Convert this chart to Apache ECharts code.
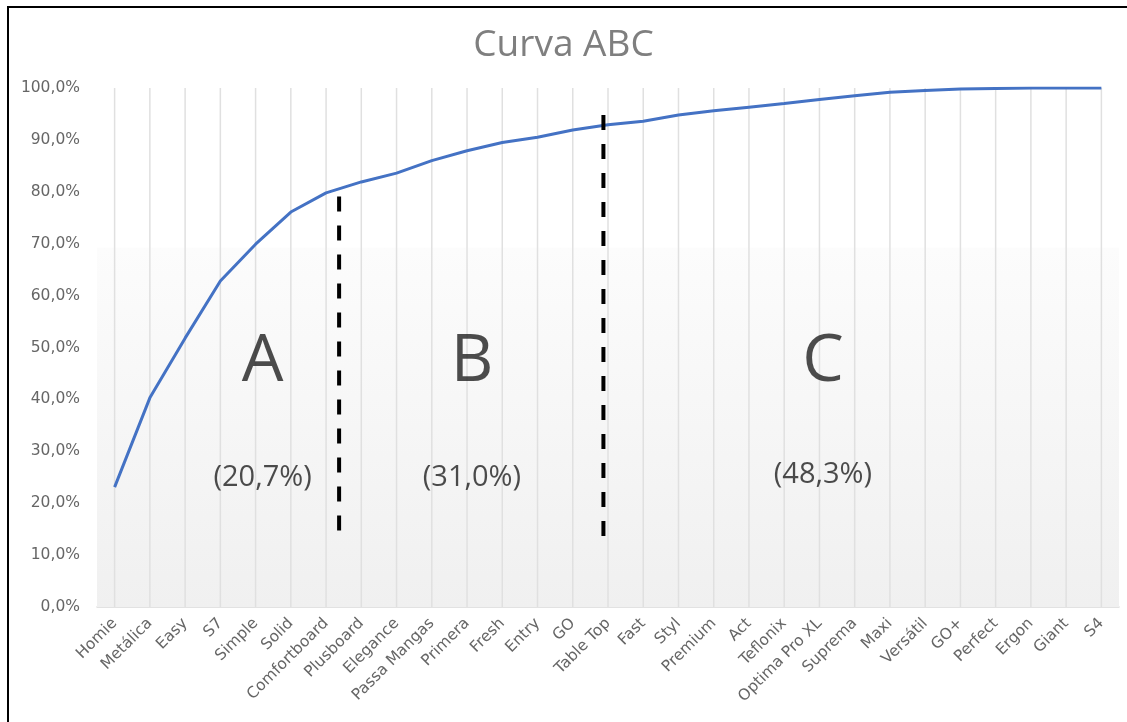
<!DOCTYPE html>
<html>
<head>
<meta charset="utf-8">
<script src="https://cdn.jsdelivr.net/npm/echarts@6/dist/echarts.min.js"></script>
<style>
  html, body { margin: 0; padding: 0; background: #fff; }
  #frame { position: absolute; left: 7px; top: 6px; width: 1130px; height: 730px;
           border-left: 2px solid #000; border-top: 2px solid #000; }
  #chart { position: absolute; left: 0; top: 0; width: 1127px; height: 722px; }
</style>
</head>
<body>
<div id="chart"></div>
<div id="frame"></div>
<script>
const categories = ['Homie','Metálica','Easy','S7','Simple','Solid','Comfortboard','Plusboard','Elegance','Passa Mangas','Primera','Fresh','Entry','GO','Table Top','Fast','Styl','Premium','Act','Teflonix','Optima Pro XL','Suprema','Maxi','Versátil','GO+','Perfect','Ergon','Giant','S4'];
const cumulative = [23.1, 40.3, 51.8, 62.8, 69.9, 76.1, 79.8, 81.9, 83.6, 86.0, 87.9, 89.5, 90.5, 91.9, 92.9, 93.6, 94.8, 95.6, 96.3, 97.0, 97.8, 98.5, 99.2, 99.5, 99.8, 99.9, 100.0, 100.0, 100.0];
const yTicks = [0, 10, 20, 30, 40, 50, 60, 70, 80, 90, 100];
const gridHeight = categories.map(() => 100);

// class separators (position in category units, from/to in %)
const sepAB = [[6.37, 79.1], [6.37, 14.3]];
const sepBC = [[13.87, 94.8], [13.87, 13.3]];

// class labels
const letterNames = ['A', 'B', 'C'];
const letterPos = [[4.2, 47.2], [10.14, 47.2], [20.1, 47.2]];
const shareNames = ['(20,7%)', '(31,0%)', '(48,3%)'];
const sharePos = [[4.2, 25.0], [10.14, 25.0], [20.1, 25.5]];

const chart = echarts.init(document.getElementById('chart'));
const fontFam = '"Open Sans", "DejaVu Sans", sans-serif';
const axisFont = '"DejaVu Sans", sans-serif';

chart.setOption({
  animation: false,
  title: {
    text: 'Curva ABC', left: 'center', top: 22,
    textStyle: { fontFamily: fontFam, fontSize: 37, fontWeight: 'normal', color: '#7f7f7f' }
  },
  grid: { left: 97, right: 8, top: 88, bottom: 115 },
  xAxis: [{
    type: 'category', data: categories, boundaryGap: true,
    axisLine: { lineStyle: { color: '#d9d9d9', width: 1.5 } },
    axisTick: { show: false },
    splitLine: { show: false },
    axisLabel: { interval: 0, rotate: 45, margin: 14, fontFamily: axisFont, fontSize: 15.5, color: '#666666' }
  }, {
    type: 'value', min: -0.5, max: 28.5, show: false
  }],
  yAxis: {
    type: 'value', min: 0, max: 100, interval: 10,
    axisLine: { show: false }, axisTick: { show: false }, splitLine: { show: false },
    axisLabel: {
      margin: 17, fontFamily: axisFont, fontSize: 15.5, color: '#666666',
      formatter: v => yTicks.includes(v) ? v.toFixed(1).replace('.', ',') + '%' : ''
    }
  },
  series: [{
    type: 'bar', data: gridHeight, barWidth: 1.5, silent: true, z: 1,
    itemStyle: { color: '#e0e0e0' },
    markArea: {
      silent: true,
      itemStyle: {
        color: { type: 'linear', x: 0, y: 0, x2: 0, y2: 1,
          colorStops: [{ offset: 0, color: 'rgba(252,252,252,1)' }, { offset: 1, color: 'rgba(240,240,240,1)' }] }
      },
      data: [[{ yAxis: 69.2 }, { yAxis: 0 }]]
    }
  }, {
    type: 'line', data: cumulative, symbol: 'none', z: 5,
    lineStyle: { color: '#4472c4', width: 3 }
  }, {
    type: 'line', xAxisIndex: 1, data: sepAB, symbol: 'none', z: 6,
    lineStyle: { color: '#000', width: 4, type: [15, 14] }
  }, {
    type: 'line', xAxisIndex: 1, data: sepBC, symbol: 'none', z: 6,
    lineStyle: { color: '#000', width: 4, type: [15, 14] }
  }, {
    type: 'scatter', xAxisIndex: 1, symbolSize: 0, z: 7,
    data: letterPos.map((p, i) => ({ value: p, name: letterNames[i] })),
    label: { show: true, position: 'inside', formatter: p => p.name,
      fontFamily: fontFam, fontSize: 66, color: '#1f1f1f' }
  }, {
    type: 'scatter', xAxisIndex: 1, symbolSize: 0, z: 7,
    data: sharePos.map((p, i) => ({ value: p, name: shareNames[i] })),
    label: { show: true, position: 'inside', formatter: p => p.name,
      fontFamily: fontFam, fontSize: 29, color: '#1f1f1f' }
  }]
});
</script>
</body>
</html>
